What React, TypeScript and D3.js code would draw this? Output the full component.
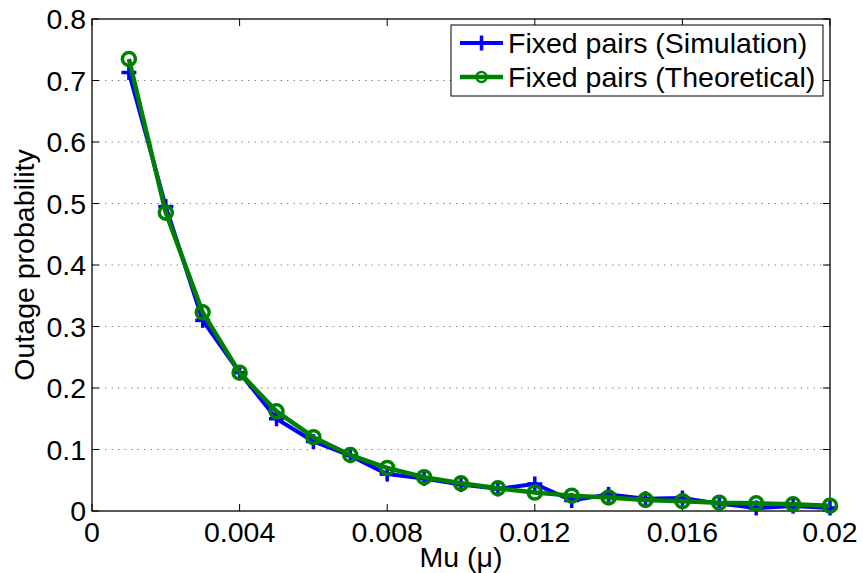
import React from "react";
import * as d3 from "d3";

const muValues = [0.001,0.002,0.003,0.004,0.005,0.006,0.007,0.008,0.009,0.010,0.011,0.012,0.013,0.014,0.015,0.016,0.017,0.018,0.019,0.020];
const simulation = [0.713,0.495,0.31,0.225,0.15,0.113,0.09,0.06,0.053,0.043,0.036,0.044,0.017,0.027,0.02,0.021,0.012,0.005,0.008,0.005];
const theoretical = [0.735,0.485,0.323,0.225,0.162,0.12,0.091,0.070,0.055,0.045,0.037,0.030,0.025,0.022,0.018,0.016,0.0135,0.0125,0.011,0.0087];
const xTicks = [0, 0.004, 0.008, 0.012, 0.016, 0.02];
const xTickLabels = ["0", "0.004", "0.008", "0.012", "0.016", "0.02"];
const yTicks = [0, 0.1, 0.2, 0.3, 0.4, 0.5, 0.6, 0.7, 0.8];
const yTickLabels = ["0", "0.1", "0.2", "0.3", "0.4", "0.5", "0.6", "0.7", "0.8"];
const seriesNames = ["Fixed pairs (Simulation)", "Fixed pairs (Theoretical)"];

const W = 863, H = 573;
const L = 92, R = 830, T = 19, B = 511;
const FONT = "'Liberation Sans', Arial, Helvetica, sans-serif";
const FS = 28.5;

export default function App() {
  const x = d3.scaleLinear().domain([0, 0.02]).range([L, R]);
  const y = d3.scaleLinear().domain([0, 0.8]).range([B, T]);
  const line = d3.line<number>().x((_, i) => x(muValues[i])).y((d) => y(d));
  const blue = "#0000ff";
  const green = "#008000";
  const tl = 7;
  const plus = (cx: number, cy: number, key: any) => (
    <g key={key}>
      <line x1={cx - 7.5} x2={cx + 7.5} y1={cy} y2={cy} stroke={blue} strokeWidth={3.5} />
      <line x1={cx} x2={cx} y1={cy - 7.5} y2={cy + 7.5} stroke={blue} strokeWidth={3.5} />
    </g>
  );
  return (
    <svg width={W} height={H} style={{ position: "absolute", left: 0, top: 0 }} fontFamily={FONT}>
      <rect width={W} height={H} fill="#fff" />
      {yTicks.slice(1, -1).map((t) => (
        <line key={"g" + t} x1={L} x2={R} y1={y(t)} y2={y(t)} stroke="#888" strokeWidth={1} strokeDasharray="1.5,5" />
      ))}
      {xTicks.map((t) => (
        <g key={"xt" + t}>
          <line x1={x(t)} x2={x(t)} y1={B} y2={B - tl} stroke="#000" />
          <line x1={x(t)} x2={x(t)} y1={T} y2={T + tl} stroke="#000" />
        </g>
      ))}
      {yTicks.map((t) => (
        <g key={"yt" + t}>
          <line x1={L} x2={L + tl} y1={y(t)} y2={y(t)} stroke="#000" />
          <line x1={R} x2={R - tl} y1={y(t)} y2={y(t)} stroke="#000" />
        </g>
      ))}
      <rect x={L} y={T} width={R - L} height={B - T} fill="none" stroke="#000" strokeWidth={1.3} />
      {xTicks.map((t, i) => (
        <text key={"xl" + t} x={x(t)} y={542} fontSize={FS} textAnchor="middle" fill="#000">{xTickLabels[i]}</text>
      ))}
      {yTicks.map((t, i) => (
        <text key={"yl" + t} x={L - 6} y={y(t)} dy="0.36em" fontSize={FS} textAnchor="end" fill="#000">{yTickLabels[i]}</text>
      ))}
      <text x={(L + R) / 2} y={567} fontSize={FS} textAnchor="middle" fill="#000">Mu (μ)</text>
      <text transform={`translate(34,${(T + B) / 2}) rotate(-90)`} fontSize={FS} textAnchor="middle" fill="#000">Outage probability</text>
      <path d={line(simulation) || ""} fill="none" stroke={blue} strokeWidth={4} strokeLinejoin="round" />
      {simulation.map((v, i) => plus(x(muValues[i]), y(v), "p" + i))}
      <path d={line(theoretical) || ""} fill="none" stroke={green} strokeWidth={4.5} strokeLinejoin="round" />
      {theoretical.map((v, i) => (
        <circle key={"c" + i} cx={x(muValues[i])} cy={y(v)} r={6.5} fill="none" stroke={green} strokeWidth={3.5} />
      ))}
      <rect x={451} y={25} width={372} height={71} fill="#fff" stroke="#000" strokeWidth={1} />
      <line x1={460} x2={503} y1={43} y2={43} stroke={blue} strokeWidth={4} />
      {plus(481.5, 43, "lp")}
      <text x={508} y={43} dy="0.36em" fontSize={FS} fill="#000">{seriesNames[0]}</text>
      <line x1={460} x2={503} y1={77} y2={77} stroke={green} strokeWidth={4.5} />
      <circle cx={481.5} cy={77} r={5} fill="none" stroke={green} strokeWidth={2.5} />
      <text x={508} y={77} dy="0.36em" fontSize={FS} fill="#000">{seriesNames[1]}</text>
    </svg>
  );
}
